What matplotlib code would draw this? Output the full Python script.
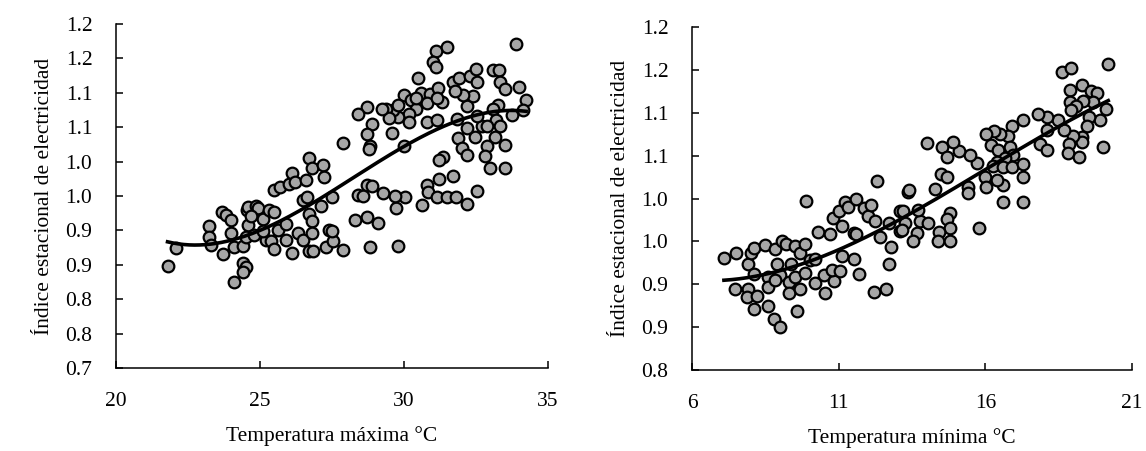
#!/usr/bin/env python3

import matplotlib
matplotlib.use("Agg")
import matplotlib.pyplot as plt
import numpy as np

# maximum temperature vs seasonal index (left panel)
tmax = [
    21.79, 22.08, 23.22, 23.22, 23.30, 23.68, 23.82, 24.00, 23.70, 24.00,
    24.10, 24.40, 24.40, 24.51, 24.40, 24.09, 24.54, 24.60, 24.86, 24.92,
    24.60, 24.51, 24.80, 25.09, 25.32, 25.50, 25.20, 25.38, 25.50, 25.61,
    25.90, 25.90, 26.11, 25.50, 25.69, 26.02, 26.11, 26.22, 26.60, 26.48,
    26.62, 26.69, 26.80, 26.69, 26.80, 27.20, 27.23, 26.31, 26.48, 26.80,
    26.69, 26.85, 27.29, 27.41, 27.12, 27.50, 24.69, 25.09, 27.89, 27.55,
    33.89, 31.11, 31.48, 31.02, 31.11, 30.50, 30.00, 30.26, 30.58, 30.90,
    31.19, 31.31, 30.79, 30.42, 30.18, 29.80, 29.63, 29.37, 29.49, 28.70,
    28.41, 28.88, 28.70, 28.82, 28.80, 27.89, 29.60, 30.18, 30.00, 30.79,
    31.13, 31.69, 31.92, 32.29, 32.50, 32.52, 33.10, 33.31, 33.33, 33.51,
    34.00, 34.24, 34.12, 33.74, 33.28, 33.10, 33.21, 33.33, 33.16, 33.51,
    32.87, 32.81, 32.99, 33.51, 32.47, 32.70, 32.17, 31.88, 32.00, 32.17,
    32.17, 32.40, 32.06, 31.77, 31.83, 31.37, 31.23, 31.71, 31.23, 30.79,
    30.84, 31.13, 31.48, 31.81, 32.20, 32.52, 30.61, 30.03, 29.72, 29.28,
    29.69, 28.70, 28.41, 28.59, 28.88, 28.30, 28.70, 29.11, 28.82, 29.80,
    27.49, 29.22, 29.80, 30.42, 31.16, 32.87, 32.52,
]
idx_max = [
    0.848, 0.875, 0.907, 0.890, 0.879, 0.927, 0.922, 0.915, 0.866, 0.896,
    0.876, 0.877, 0.853, 0.847, 0.839, 0.825, 0.930, 0.934, 0.936, 0.932,
    0.908, 0.891, 0.893, 0.916, 0.930, 0.927, 0.886, 0.884, 0.873, 0.901,
    0.909, 0.886, 0.867, 0.959, 0.963, 0.968, 0.984, 0.970, 0.973, 0.944,
    0.949, 0.924, 0.914, 1.005, 0.991, 0.995, 0.977, 0.896, 0.886, 0.896,
    0.870, 0.870, 0.876, 0.900, 0.935, 0.948, 0.921, 0.899, 0.872, 0.884,
    1.171, 1.160, 1.166, 1.144, 1.138, 1.121, 1.097, 1.090, 1.100, 1.098,
    1.107, 1.087, 1.085, 1.077, 1.069, 1.065, 1.075, 1.076, 1.063, 1.079,
    1.069, 1.055, 1.040, 1.022, 1.018, 1.027, 1.041, 1.057, 1.022, 1.058,
    1.061, 1.116, 1.121, 1.124, 1.134, 1.116, 1.133, 1.133, 1.115, 1.105,
    1.109, 1.090, 1.075, 1.068, 1.082, 1.077, 1.060, 1.051, 1.036, 1.024,
    1.022, 1.008, 0.990, 0.990, 1.036, 1.051, 1.049, 1.034, 1.020, 1.010,
    1.080, 1.095, 1.097, 1.102, 1.062, 1.006, 1.002, 0.979, 0.974, 0.966,
    0.956, 0.949, 0.949, 0.949, 0.939, 0.957, 0.937, 0.949, 0.932, 0.954,
    0.950, 0.966, 0.951, 0.950, 0.964, 0.915, 0.919, 0.910, 0.876, 0.877,
    0.899, 1.077, 1.082, 1.092, 1.092, 1.051, 1.066,
]

# minimum temperature vs seasonal index (right panel)
tmin = [
    7.09, 7.50, 7.48, 7.91, 7.88, 8.22, 8.10, 8.59, 8.79, 9.01,
    7.91, 8.10, 8.02, 8.10, 8.50, 8.59, 8.59, 8.90, 8.82, 9.07,
    9.20, 9.01, 9.30, 9.30, 9.39, 9.50, 9.52, 9.69, 9.84, 9.84,
    9.69, 9.58, 10.03, 10.20, 10.18, 10.49, 10.55, 10.83, 10.77, 11.06,
    11.11, 11.51, 11.70, 12.19, 12.61, 12.71, 10.30, 10.72, 10.80, 11.00,
    11.11, 11.21, 11.32, 11.59, 11.51, 11.59, 11.85, 12.00, 12.11, 12.23,
    12.42, 12.80, 12.71, 13.10, 13.10, 13.36, 12.31, 9.89, 13.25, 8.84,
    20.19, 18.60, 18.91, 18.89, 19.29, 19.59, 19.80, 19.68, 19.32, 18.89,
    19.09, 18.91, 20.12, 19.91, 19.55, 19.46, 19.29, 19.29, 19.00, 18.68,
    18.86, 18.83, 19.20, 20.00, 18.49, 18.09, 17.81, 18.09, 17.86, 18.09,
    17.30, 16.90, 16.78, 16.50, 16.30, 16.02, 16.18, 16.44, 16.84, 16.95,
    16.67, 16.39, 16.27, 15.71, 15.48, 15.11, 14.89, 14.51, 14.00, 14.70,
    14.48, 14.70, 15.42, 15.42, 15.99, 16.02, 16.61, 16.90, 17.30, 17.30,
    16.61, 16.39, 16.59, 17.30, 14.28, 13.41, 14.80, 14.68, 14.80, 14.43,
    14.40, 14.80, 15.80, 13.77, 14.06, 13.72, 13.20, 13.15, 13.66, 13.55,
]
idx_min = [
    0.931, 0.937, 0.895, 0.895, 0.885, 0.886, 0.871, 0.875, 0.860, 0.850,
    0.924, 0.912, 0.936, 0.942, 0.946, 0.908, 0.897, 0.924, 0.941, 0.950,
    0.947, 0.911, 0.903, 0.890, 0.924, 0.909, 0.945, 0.937, 0.947, 0.913,
    0.894, 0.869, 0.928, 0.930, 0.902, 0.911, 0.890, 0.904, 0.917, 0.915,
    0.933, 0.930, 0.912, 0.891, 0.894, 0.924, 0.961, 0.959, 0.977, 0.985,
    0.968, 0.996, 0.990, 0.999, 0.960, 0.959, 0.989, 0.980, 0.992, 0.974,
    0.955, 0.944, 0.972, 0.962, 0.985, 1.008, 1.020, 0.997, 0.972, 0.905,
    1.157, 1.147, 1.152, 1.127, 1.132, 1.125, 1.123, 1.113, 1.114, 1.112,
    1.108, 1.103, 1.104, 1.091, 1.095, 1.084, 1.072, 1.066, 1.073, 1.080,
    1.064, 1.053, 1.048, 1.060, 1.092, 1.095, 1.099, 1.080, 1.064, 1.057,
    1.091, 1.085, 1.073, 1.075, 1.079, 1.075, 1.062, 1.057, 1.060, 1.051,
    1.047, 1.042, 1.038, 1.041, 1.051, 1.055, 1.066, 1.060, 1.065, 1.048,
    1.029, 1.025, 1.013, 1.007, 1.025, 1.013, 1.037, 1.037, 1.040, 1.025,
    1.016, 1.022, 0.996, 0.996, 1.011, 1.010, 0.983, 0.976, 0.966, 0.961,
    0.951, 0.951, 0.966, 0.974, 0.971, 0.987, 0.985, 0.963, 0.960, 0.950,
]

# y tick labels as printed in the original (one decimal, Excel rounding)
yticks_max = [0.70, 0.75, 0.80, 0.85, 0.90, 0.95, 1.00, 1.05, 1.10, 1.15, 1.20]
ylabels_max = ["0.7", "0.8", "0.8", "0.9", "0.9", "1.0", "1.0", "1.1", "1.1", "1.2", "1.2"]
yticks_min = [0.80, 0.85, 0.90, 0.95, 1.00, 1.05, 1.10, 1.15, 1.20]
ylabels_min = ["0.8", "0.9", "0.9", "1.0", "1.0", "1.1", "1.1", "1.2", "1.2"]
xticks_max = [20, 25, 30, 35]
xticks_min = [6, 11, 16, 21]

plt.rcParams['font.family'] = ['Liberation Serif', 'DejaVu Serif']
plt.rcParams['font.size'] = 15.5


def draw_panel(ax, x, y, xticks, yticks, ylabels, xlabel):
    ax.plot(x, y, linestyle='none', marker='o', markersize=8.4,
            markerfacecolor='#a6a6a6', markeredgecolor='black',
            markeredgewidth=1.6, zorder=2)

    # third order polynomial trend, like the spreadsheet trendline
    coef = np.polyfit(x, y, 3)
    xs = np.linspace(min(x), max(x), 200)
    ax.plot(xs, np.polyval(coef, xs), color='black', linewidth=2.6, zorder=3)

    ax.set_xlim(xticks[0], xticks[-1])
    ax.set_ylim(yticks[0], yticks[-1])
    ax.set_xticks(xticks)
    ax.set_yticks(yticks, ylabels)
    ax.tick_params(axis='y', direction='in', length=5, width=1.1, pad=17)
    ax.tick_params(axis='x', direction='in', length=5, width=1.1, pad=17)
    ax.spines['top'].set_visible(False)
    ax.spines['right'].set_visible(False)
    for side in ('left', 'bottom'):
        ax.spines[side].set_linewidth(1.1)
    ax.set_xlabel(xlabel, labelpad=11)
    ax.set_ylabel("Índice estacional de electricidad", labelpad=8)


fig = plt.figure(figsize=(11.46, 4.51), dpi=100)
ax1 = fig.add_axes([0.1012, 0.184, 0.377, 0.763])
ax2 = fig.add_axes([0.6038, 0.1796, 0.384, 0.7605])

draw_panel(ax1, tmax, idx_max, xticks_max, yticks_max, ylabels_max,
           "Temperatura máxima °C")
draw_panel(ax2, tmin, idx_min, xticks_min, yticks_min, ylabels_min,
           "Temperatura mínima °C")

fig.savefig("out.png", dpi=100)
